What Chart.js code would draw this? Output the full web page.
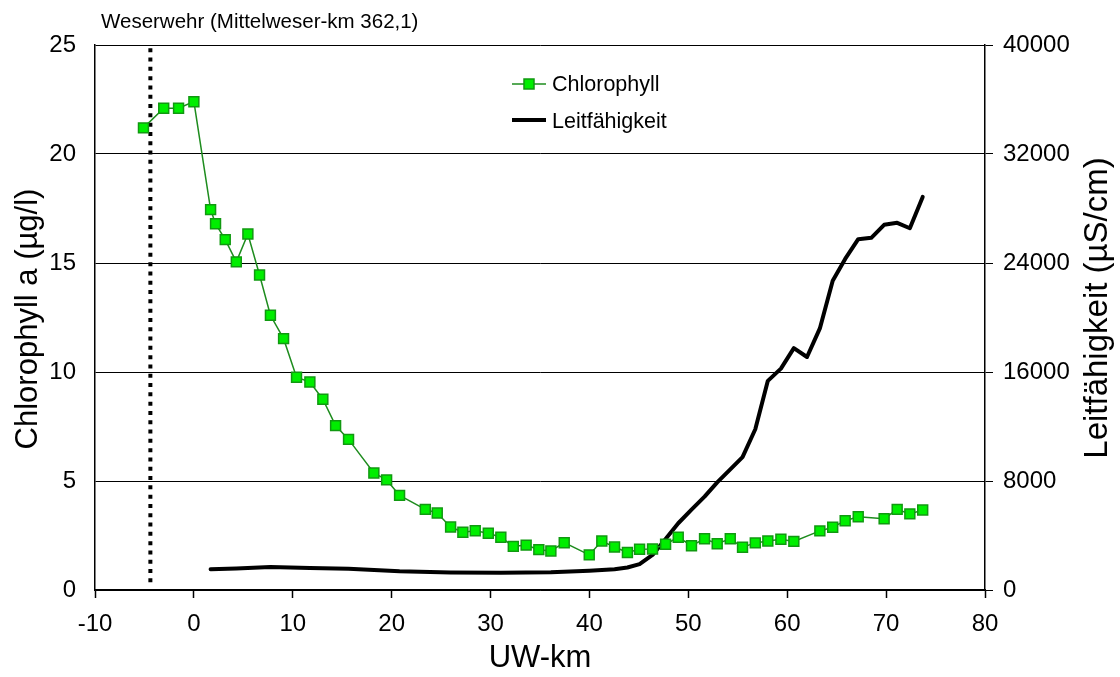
<!DOCTYPE html>
<html><head><meta charset="utf-8">
<script src="https://cdn.jsdelivr.net/npm/chart.js@4.4.0/dist/chart.umd.min.js"></script>
<style>html,body{margin:0;padding:0;background:#fff;overflow:hidden}</style>
</head><body>
<canvas id="c" width="1120" height="677" style="width:1120px;height:677px;display:block"></canvas>
<script>
// ---- data ----
const chlKm = [-5.1, -3.05, -1.55, 0, 1.69, 2.19, 3.17, 4.29, 5.46, 6.64, 7.74, 9.07, 10.38, 11.73, 13.04, 14.33, 15.64, 18.2, 19.49, 20.8, 23.4, 24.61, 25.96, 27.2, 28.45, 29.77, 31.04, 32.3, 33.6, 34.88, 36.1, 37.45, 39.98, 41.25, 42.54, 43.84, 45.07, 46.38, 47.7, 48.98, 50.32, 51.64, 52.92, 54.24, 55.48, 56.77, 58.04, 59.36, 60.67, 63.3, 64.6, 65.86, 67.18, 69.8, 71.12, 72.4, 73.7];
const chlValues = [21.2, 22.1, 22.1, 22.4, 17.45, 16.8, 16.07, 15.05, 16.33, 14.45, 12.6, 11.53, 9.76, 9.54, 8.75, 7.54, 6.91, 5.37, 5.05, 4.34, 3.70, 3.53, 2.89, 2.65, 2.72, 2.60, 2.42, 2.00, 2.06, 1.85, 1.79, 2.17, 1.61, 2.25, 1.97, 1.72, 1.87, 1.88, 2.10, 2.42, 2.03, 2.35, 2.12, 2.35, 1.96, 2.16, 2.25, 2.33, 2.23, 2.71, 2.88, 3.18, 3.36, 3.27, 3.70, 3.49, 3.67];
const condKm = [1.69, 4.29, 7.74, 11.73, 15.64, 20.8, 25.96, 31.04, 36.1, 39.98, 42.54, 43.84, 45.07, 46.38, 47.7, 48.98, 50.32, 51.64, 52.92, 54.24, 55.48, 56.77, 58.04, 59.36, 60.67, 62.0, 63.3, 64.6, 65.86, 67.18, 68.5, 69.8, 71.12, 72.4, 73.7];
const condValues = [1520, 1570, 1680, 1620, 1560, 1380, 1290, 1270, 1310, 1420, 1530, 1650, 1900, 2570, 3750, 4900, 5900, 6850, 7900, 8850, 9750, 11800, 15350, 16250, 17750, 17100, 19200, 22700, 24300, 25750, 25850, 26800, 26950, 26550, 28850];
const weirKm = -4.4;
const weirSpan = [0.35, 25];
const xRange = [-10, 80, 10];
const chlRange = [0, 25, 5];
const condRange = [0, 40000, 8000];
const labels = {
  chl: 'Chlorophyll', cond: 'Leitfähigkeit',
  yLeft: 'Chlorophyll a (µg/l)', yRight: 'Leitfähigkeit (µS/cm)', x: 'UW-km',
  note: 'Weserwehr (Mittelweser-km 362,1)'
};

const FONT = "'Liberation Sans', Arial, sans-serif";
const GREEN_LINE = '#1e8c1e', GREEN_FILL = '#00ee00', GREEN_EDGE = '#119911';

const decor = {
  id: 'decor',
  afterDraw(chart) {
    const ctx = chart.ctx;
    ctx.save();
    ctx.fillStyle = '#000';
    // axis titles
    ctx.textAlign = 'center'; ctx.textBaseline = 'middle';
    ctx.font = '31px ' + FONT;
    ctx.save(); ctx.translate(28, 319); ctx.rotate(-Math.PI / 2); ctx.fillText(labels.yLeft, 0, 0); ctx.restore();
    ctx.fillText(labels.x, 540, 658);
    ctx.font = '33px ' + FONT;
    ctx.save(); ctx.translate(1098, 308); ctx.rotate(-Math.PI / 2); ctx.fillText(labels.yRight, 0, 0); ctx.restore();
    // note
    ctx.font = '20.5px ' + FONT;
    ctx.textAlign = 'left'; ctx.textBaseline = 'alphabetic';
    ctx.fillText(labels.note, 101, 28);
    // legend
    ctx.font = '21.5px ' + FONT;
    ctx.strokeStyle = GREEN_LINE; ctx.lineWidth = 1.5;
    ctx.beginPath(); ctx.moveTo(512, 84); ctx.lineTo(546, 84); ctx.stroke();
    ctx.fillStyle = GREEN_FILL; ctx.fillRect(524, 79, 10, 10);
    ctx.strokeStyle = GREEN_EDGE; ctx.strokeRect(524, 79, 10, 10);
    ctx.fillStyle = '#000';
    ctx.fillText(labels.chl, 552, 91);
    ctx.strokeStyle = '#000'; ctx.lineWidth = 4;
    ctx.beginPath(); ctx.moveTo(512, 120); ctx.lineTo(546, 120); ctx.stroke();
    ctx.fillText(labels.cond, 552, 128);
    ctx.restore();
  }
};

const tickFont = { family: FONT, size: 24 };
const plain = v => String(v);

new Chart(document.getElementById('c'), {
  type: 'line',
  data: {
    datasets: [
      {
        label: labels.chl,
        data: chlKm.map((x, i) => ({ x, y: chlValues[i] })),
        yAxisID: 'y', order: 0,
        borderColor: GREEN_LINE, borderWidth: 1.5,
        pointStyle: 'rect', pointRadius: 7, pointBorderWidth: 1.5,
        pointBackgroundColor: GREEN_FILL, pointBorderColor: GREEN_EDGE,
        tension: 0
      },
      {
        label: labels.cond,
        data: condKm.map((x, i) => ({ x, y: condValues[i] })),
        yAxisID: 'y2', order: 1,
        borderColor: '#000', borderWidth: 4, pointRadius: 0,
        borderJoinStyle: 'round', borderCapStyle: 'round', tension: 0
      },
      {
        label: 'Weserwehr',
        data: weirSpan.map(y => ({ x: weirKm, y })),
        yAxisID: 'y', order: 2,
        borderColor: '#000', borderWidth: 4, borderDash: [4, 5.3], pointRadius: 0
      }
    ]
  },
  options: {
    responsive: false, animation: false,
    layout: { padding: { top: 45, left: 0, right: 0, bottom: 0 } },
    plugins: { legend: { display: false }, tooltip: { enabled: false } },
    scales: {
      x: {
        type: 'linear', min: xRange[0], max: xRange[1],
        ticks: { stepSize: xRange[2], color: '#000', font: tickFont, padding: 12, maxRotation: 0, callback: plain },
        grid: { drawOnChartArea: false, color: '#000', tickLength: 8, tickWidth: 1.5 },
        border: { color: '#000', width: 1.5 },
        afterFit(s) { s.height = 87; }
      },
      y: {
        position: 'left', min: chlRange[0], max: chlRange[1],
        ticks: { stepSize: chlRange[2], color: '#000', font: tickFont, padding: 19, callback: plain },
        grid: { color: '#000', lineWidth: 1, drawTicks: false },
        border: { color: '#000', width: 1.5 },
        afterFit(s) { s.width = 95; }
      },
      y2: {
        position: 'right', min: condRange[0], max: condRange[1],
        ticks: { stepSize: condRange[2], color: '#000', font: tickFont, padding: 10, callback: plain },
        grid: { drawOnChartArea: false, color: '#000', tickLength: 8, tickWidth: 1 },
        border: { color: '#000', width: 1.5 },
        afterFit(s) { s.width = 135; }
      }
    }
  },
  plugins: [decor]
});
</script>
</body></html>
